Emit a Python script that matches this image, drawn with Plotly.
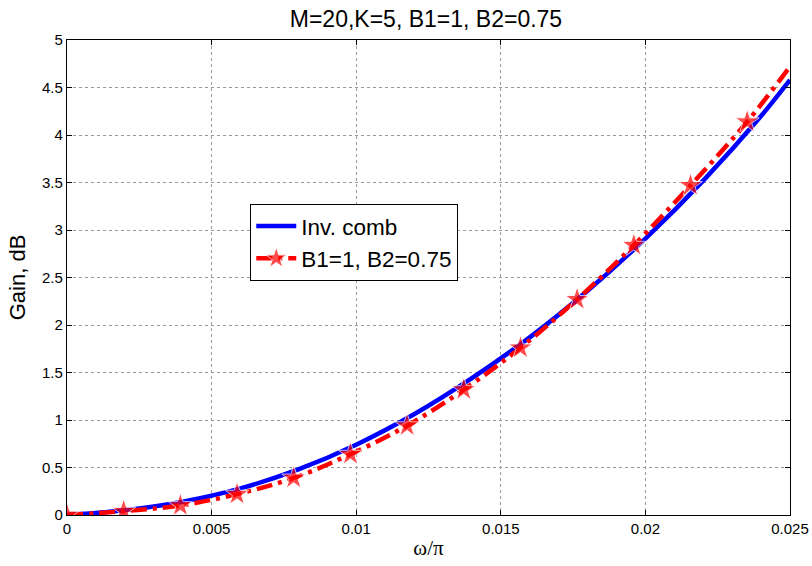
import plotly.graph_objects as go

# Inv. comb curve
omega_blue = [0, 0.002, 0.004, 0.006, 0.008, 0.010, 0.012, 0.014, 0.016, 0.018, 0.020, 0.022, 0.024, 0.025]
gain_blue = [0, 0.05, 0.14, 0.28, 0.48, 0.74, 1.06, 1.44, 1.87, 2.36, 2.91, 3.52, 4.20, 4.58]

# B1=1, B2=0.75 curve (marker positions + end point)
omega_red = [0, 0.00196, 0.00392, 0.00588, 0.00784, 0.0098, 0.01176, 0.01372, 0.01568, 0.01764, 0.0196, 0.02156, 0.02352, 0.025]
gain_red = [0, 0.04, 0.10, 0.22, 0.39, 0.64, 0.94, 1.32, 1.76, 2.27, 2.84, 3.47, 4.14, 4.72]
marker_sizes = [18] * 13 + [0]

x_ticks = [0, 0.005, 0.01, 0.015, 0.02, 0.025]
x_tick_labels = ["0", "0.005", "0.01", "0.015", "0.02", "0.025"]
y_ticks = [0, 0.5, 1, 1.5, 2, 2.5, 3, 3.5, 4, 4.5, 5]
y_tick_labels = ["0", "0.5", "1", "1.5", "2", "2.5", "3", "3.5", "4", "4.5", "5"]

SANS = "Liberation Sans, Arial, Helvetica"

fig = go.Figure()
fig.add_trace(go.Scatter(
    x=omega_blue, y=gain_blue, mode="lines", name="Inv. comb",
    line=dict(color="#0000ff", width=4.5, shape="spline"),
))
fig.add_trace(go.Scatter(
    x=omega_red, y=gain_red, mode="lines+markers", name="B1=1, B2=0.75",
    line=dict(color="#ff0000", width=4.5, dash="16px,6px,4px,6px", shape="spline"),
    marker=dict(symbol="star", size=marker_sizes, color="#ff0000"),
))

axis_common = dict(
    showline=True, linecolor="black", linewidth=1.2, mirror="ticks",
    ticks="inside", ticklen=5, tickcolor="black",
    showgrid=True, gridcolor="#9a9a9a", griddash="dot", gridwidth=1,
    zeroline=False, tickfont=dict(family=SANS, size=15, color="black"),
    automargin=False, ticklabeloverflow="allow",
)

fig.update_xaxes(range=[0, 0.025], tickvals=x_ticks, ticktext=x_tick_labels,
                 title=dict(text="ω/π", font=dict(family="Liberation Serif, Times New Roman", size=21, color="black"), standoff=4),
                 **axis_common)
fig.update_yaxes(range=[0, 5], tickvals=y_ticks, ticktext=y_tick_labels,
                 title=dict(text="Gain, dB", font=dict(family=SANS, size=22, color="black"), standoff=10),
                 **axis_common)

fig.update_layout(
    width=812, height=566,
    margin=dict(l=67, r=22, t=40, b=51),
    paper_bgcolor="white", plot_bgcolor="white",
    title=dict(text="M=20,K=5, B1=1, B2=0.75", x=0.5246, xanchor="center", y=0.966, yanchor="middle",
               font=dict(family=SANS, size=23, color="black")),
    legend=dict(x=0.2535, y=0.655, xanchor="left", yanchor="top",
                bgcolor="white", bordercolor="black", borderwidth=1,
                font=dict(family=SANS, size=22.5, color="black"),
                tracegroupgap=0, itemwidth=40),
    showlegend=True,
)

# remove the browser's default 8px body margin so the figure fills the 812x566 window exactly
fig.write_html("out.html", config={"displayModeBar": False},
               post_script="document.body.style.margin='0';")
